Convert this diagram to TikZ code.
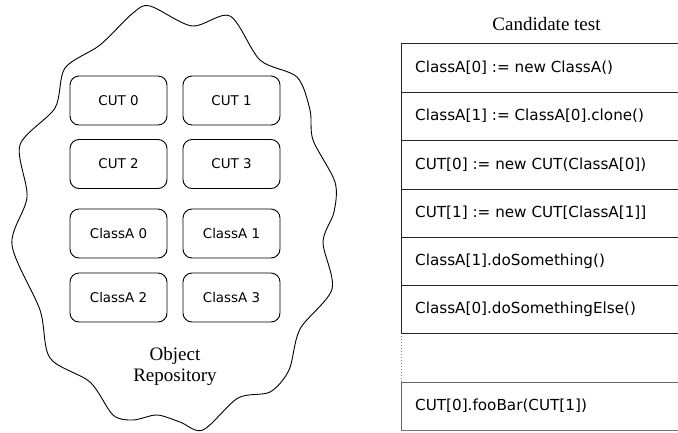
\documentclass[tikz,border=0pt]{standalone}
\usepackage{fontspec}
\setmainfont{Liberation Serif}
\newfontfamily\dejavu{DejaVu Sans}
\begin{document}
\begin{tikzpicture}[x=1pt,y=-1pt,
  objbox/.style={draw=black, line width=0.9pt, rounded corners=9pt, minimum width=97pt, minimum height=49pt, inner sep=0pt, font=\dejavu\fontsize{13.4}{16}\selectfont},
  rowtext/.style={anchor=west, inner sep=0pt, font=\dejavu\fontsize{15.2}{18}\selectfont},
  serif/.style={font=\fontsize{19}{23}\selectfont, inner sep=0pt},
  tline/.style={line width=1pt, draw=black!85}]
\useasboundingbox (0,0) rectangle (678,432);
% cloud
\draw[line width=0.9pt] plot[smooth cycle, tension=0.5] coordinates {
 (150,6) (192,26) (230,16) (260,60) (297,77) (310,110) (313,140) (335,182)
 (334,212) (323,242) (332,289) (300,329) (289,370) (270,392) (238,398)
 (203,430) (180,422) (157,415) (133,420) (113,415) (90,382)
 (50,358) (40,310) (12,245) (27,197) (20,145) (55,108) (65,68)
 (100,45) (133,13)};
% boxes
\node[objbox] (c0) at (118.5,100.5) {CUT 0};
\node[objbox] (c1) at (231.5,100.5) {CUT 1};
\node[objbox] (c2) at (118.5,164) {CUT 2};
\node[objbox] (c3) at (231.5,164) {CUT 3};
\node[objbox] (a0) at (118.5,233.5) {ClassA 0};
\node[objbox] (a1) at (231.5,233.5) {ClassA 1};
\node[objbox] (a2) at (118.5,297.5) {ClassA 2};
\node[objbox] (a3) at (231.5,297.5) {ClassA 3};
\node[serif, align=center] (repo) at (175,366) {Object\\[-2pt]Repository};
% table
\node[serif] (title) at (546.5,24) {Candidate test};
\coordinate (t0) at (401,43);
\coordinate (t6) at (401,333);
\coordinate (t7) at (401,382);
\coordinate (t8) at (401,430);
\draw[tline] (t0) -- (t6);
\draw[line width=1pt, draw=black!45, dotted] (t6) -- (t7);
\draw[tline, draw=black!60] (t7) -- (t8);
\foreach \y in {43,92,140,189,237,285,333}{
  \draw[tline] (401,\y) -- (679,\y);
}
\draw[tline, draw=black!60] (401,382) -- (679,382);
\draw[tline, draw=black!55] (401,430) -- (679,430);
\node[rowtext] (r1) at (415,67.5) {ClassA[0] := new ClassA()};
\node[rowtext] (r2) at (415,116) {ClassA[1] := ClassA[0].clone()};
\node[rowtext] (r3) at (415,164.5) {CUT[0] := new CUT(ClassA[0])};
\node[rowtext] (r4) at (415,213) {CUT[1] := new CUT[ClassA[1]]};
\node[rowtext] (r5) at (415,261) {ClassA[1].doSomething()};
\node[rowtext] (r6) at (415,309) {ClassA[0].doSomethingElse()};
\node[rowtext] (r8) at (415,406) {CUT[0].fooBar(CUT[1])};
\end{tikzpicture}
\end{document}
